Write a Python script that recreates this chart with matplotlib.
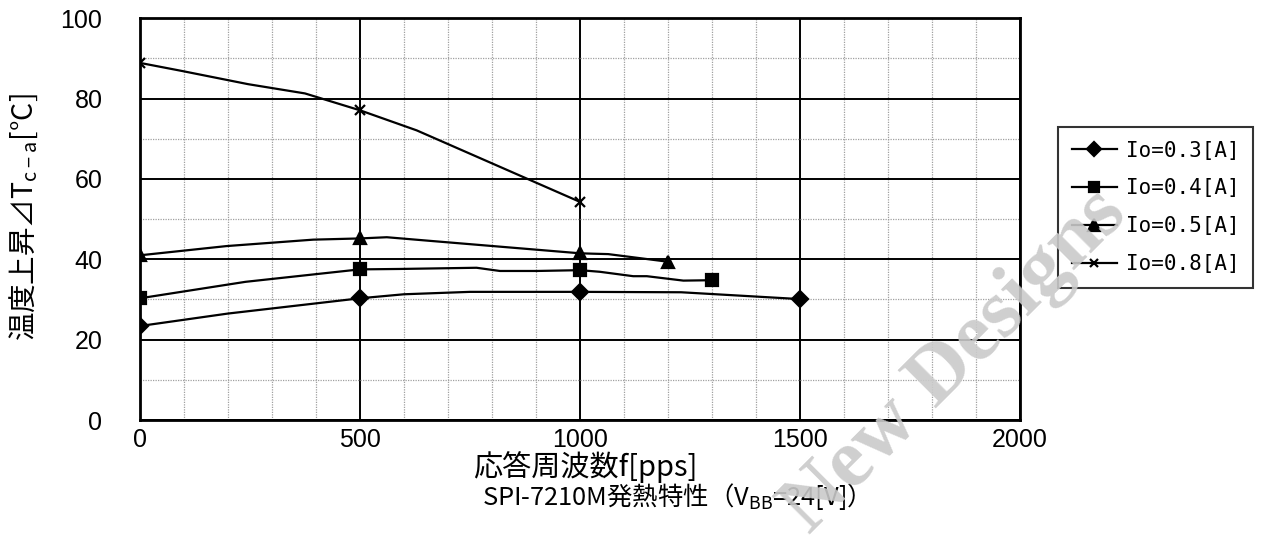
import numpy as np
import matplotlib
matplotlib.use("Agg")
import matplotlib.pyplot as plt
from matplotlib.ticker import MultipleLocator

plt.rcParams['font.family'] = ['Noto Sans CJK JP', 'DejaVu Sans']
plt.rcParams['mathtext.fontset'] = 'custom'
plt.rcParams['mathtext.rm'] = 'Noto Sans CJK JP'

# measured points (markers)
labels = ["Io=0.3[A]", "Io=0.4[A]", "Io=0.5[A]", "Io=0.8[A]"]
pts_x = [[0, 500, 1000, 1500],
         [0, 500, 1000, 1300],
         [0, 500, 1000, 1200],
         [0, 500, 1000]]
pts_y = [[23.4, 30.3, 31.9, 30.1],
         [30.3, 37.5, 37.3, 34.8],
         [41.0, 45.2, 41.5, 39.4],
         [88.9, 77.1, 54.3]]

# traced curves between the points
curve_x = [[0, 200, 500, 600, 750, 1000, 1230, 1500],
           [0, 240, 500, 590, 765, 818, 902, 1000, 1045, 1121, 1152, 1235, 1300],
           [0, 197, 394, 500, 561, 659, 1000, 1030, 1064, 1200],
           [0, 95, 246, 375, 500, 629, 1000]]
curve_y = [[23.4, 26.5, 30.3, 31.3, 31.9, 31.9, 31.8, 30.1],
           [30.3, 34.4, 37.5, 37.6, 37.9, 37.1, 37.1, 37.3, 36.9, 35.8, 35.8, 34.7, 34.8],
           [41.0, 43.3, 44.9, 45.2, 45.5, 44.6, 41.5, 41.4, 41.3, 39.4],
           [88.9, 86.9, 83.6, 81.3, 77.1, 72.1, 54.3]]
markers = ["D", "s", "^", "x"]
msizes = [8, 8, 9, 7]

fig = plt.figure(figsize=(12.63, 5.53), dpi=100)
ax = fig.add_axes([0.1108, 0.2405, 0.6968, 0.7264])

for cx, cy, px, py, m, ms, lab in zip(curve_x, curve_y, pts_x, pts_y, markers, msizes, labels):
    ax.plot(cx, cy, color="black", lw=1.6, zorder=3)
    ax.plot(px, py, linestyle="none", marker=m, ms=ms, color="black",
            mew=1.6, zorder=4)
    ax.plot([], [], color="black", lw=1.6, marker=m, ms=ms - 1, mew=1.6, label=lab)

ax.set_xlim(0, 2000)
ax.set_ylim(0, 100)
ax.xaxis.set_major_locator(MultipleLocator(500))
ax.xaxis.set_minor_locator(MultipleLocator(100))
ax.yaxis.set_major_locator(MultipleLocator(20))
ax.yaxis.set_minor_locator(MultipleLocator(10))
ax.grid(which="minor", color="#a0a0a0", linestyle=(0, (1, 1)), lw=0.9)
ax.grid(which="major", color="black", linestyle="-", lw=1.4)
ax.set_axisbelow(True)
for s in ax.spines.values():
    s.set_linewidth(2)
    s.set_color("black")
ax.tick_params(which="both", length=0)
ax.tick_params(axis="y", pad=27)
ax.tick_params(axis="x", pad=6)
for t in ax.get_xticklabels() + ax.get_yticklabels():
    t.set_fontfamily("Liberation Sans")
    t.set_fontsize(18)

fig.text(473 / 1263, 1 - 467 / 553, "応答周波数f[pps]", ha="left", va="center",
         fontsize=21)
fig.text(482 / 1263, 1 - 497 / 553, "SPI-7210M発熱特性（V$_{\\mathregular{BB}}$=24[V]）",
         ha="left", va="center", fontsize=18.3)
fig.text(24 / 1263, 1 - 217 / 553, "温度上昇⊿T$_{\\mathregular{c-a}}$[°C]",
         ha="center", va="center", rotation=90, fontsize=20.5)

leg = ax.legend(loc="upper left", bbox_to_anchor=(1058 / 1263, 1 - 127 / 553),
                bbox_transform=fig.transFigure,
                prop={"family": "DejaVu Sans Mono", "size": 15},
                frameon=True, fancybox=False, handlelength=2.2, handletextpad=0.4,
                labelspacing=0.86, borderpad=0.65, borderaxespad=0)
leg.get_frame().set_edgecolor("black")
leg.get_frame().set_linewidth(1.5)

fig.text(955 / 1263, 1 - 362 / 553, "New Designs", rotation=45, fontsize=60,
         color="#cacaca", family="Liberation Serif", weight="bold",
         ha="center", va="center", alpha=0.9, zorder=10)

fig.savefig("out.png", dpi=100)
